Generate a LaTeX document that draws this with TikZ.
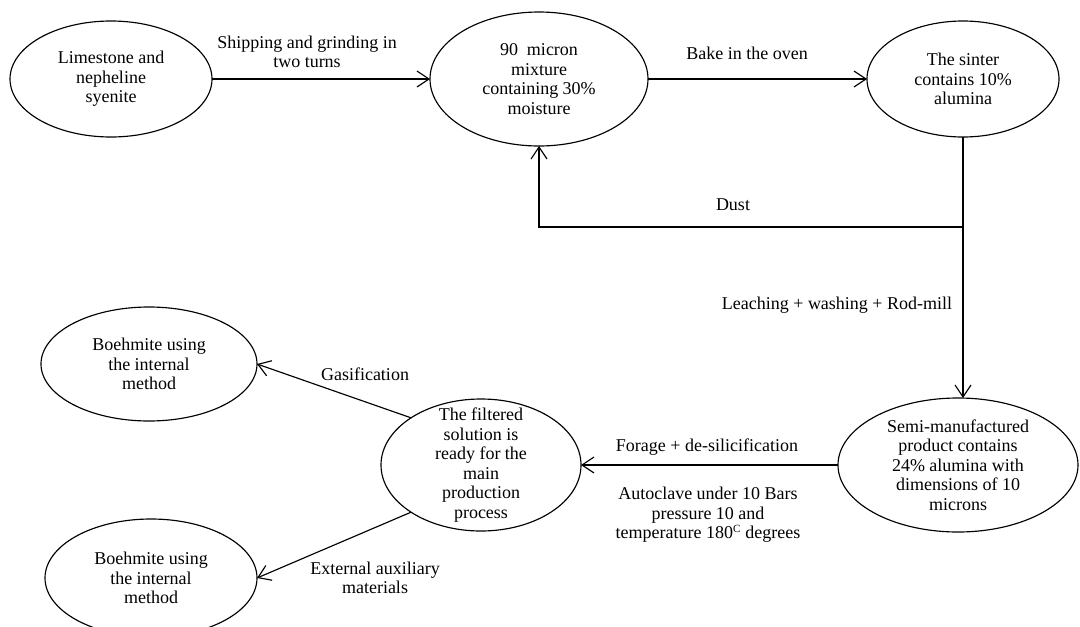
\documentclass[tikz,border=0pt]{standalone}
\usepackage{fontspec}
\setmainfont{Liberation Serif}
\usetikzlibrary{shapes.geometric,arrows.meta}
\begin{document}
\begin{tikzpicture}[x=1pt,y=-1pt,
  every node/.style={font=\fontsize{18}{19.5}\selectfont},
  proc/.style={ellipse,draw,line width=1.15pt,inner sep=-20pt,outer sep=0pt,align=center},
  lbl/.style={align=center,inner sep=0pt},
  arr/.style={line width=1.15pt,-{Straight Barb[length=12pt,width=16pt,line width=1.15pt]}},
  ln/.style={line width=1.15pt}]
\useasboundingbox (0,0) rectangle (1080,627);
\clip (0,0) rectangle (1080,627);

\node[proc,minimum width=202pt,minimum height=116pt] (lime) at (111,79) {Limestone and\\nepheline\\syenite};
\node[proc,minimum width=218pt,minimum height=134pt] (mix) at (539,79) {90\enspace micron\\mixture\\containing 30\%\\moisture};
\node[proc,minimum width=192pt,minimum height=116pt] (sinter) at (963,79) {The sinter\\contains 10\%\\alumina};
\node[proc,minimum width=240pt,minimum height=134pt] (semi) at (958,465) {Semi-manufactured\\product contains\\24\% alumina with\\dimensions of 10\\microns};
\node[proc,minimum width=200pt,minimum height=132pt] (filt) at (481,465) {The filtered\\solution is\\ready for the\\main\\production\\process};
\node[proc,minimum width=216pt,minimum height=114pt] (boe1) at (149,364) {Boehmite using\\the internal\\method};
\node[proc,minimum width=212pt,minimum height=118pt] (boe2) at (151,578) {Boehmite using\\the internal\\method};

\coordinate (dj) at (963,227);

\draw[arr] (lime) -- (mix);
\draw[arr] (mix) -- (sinter);
\draw[arr] (sinter.south) -- (sinter.south |- semi.north);
\draw[arr] (dj) -| (mix.south);
\draw[arr] (semi) -- (filt);
\draw[arr] (filt.146) -- (boe1.east);
\draw[arr] (filt.214) -- (boe2.east);

\node[lbl] (shiplbl) at (307,52) {Shipping and grinding in\\two turns};
\node[lbl] (bakelbl) at (747,53) {Bake in the oven};
\node[lbl] (dustlbl) at (733,205) {Dust};
\node[lbl] (leachlbl) at (837,305) {Leaching + washing + Rod-mill};
\node[lbl] (foragelbl) at (707,447) {Forage + de-silicification};
\node[lbl] (autolbl) at (708,515) {Autoclave under 10 Bars\\pressure 10 and\\temperature 180\textsuperscript{\fontsize{11}{11}\selectfont C} degrees};
\node[lbl] (gaslbl) at (365,374) {Gasification};
\node[lbl] (extlbl) at (375,578) {External auxiliary\\materials};
\end{tikzpicture}
\end{document}
